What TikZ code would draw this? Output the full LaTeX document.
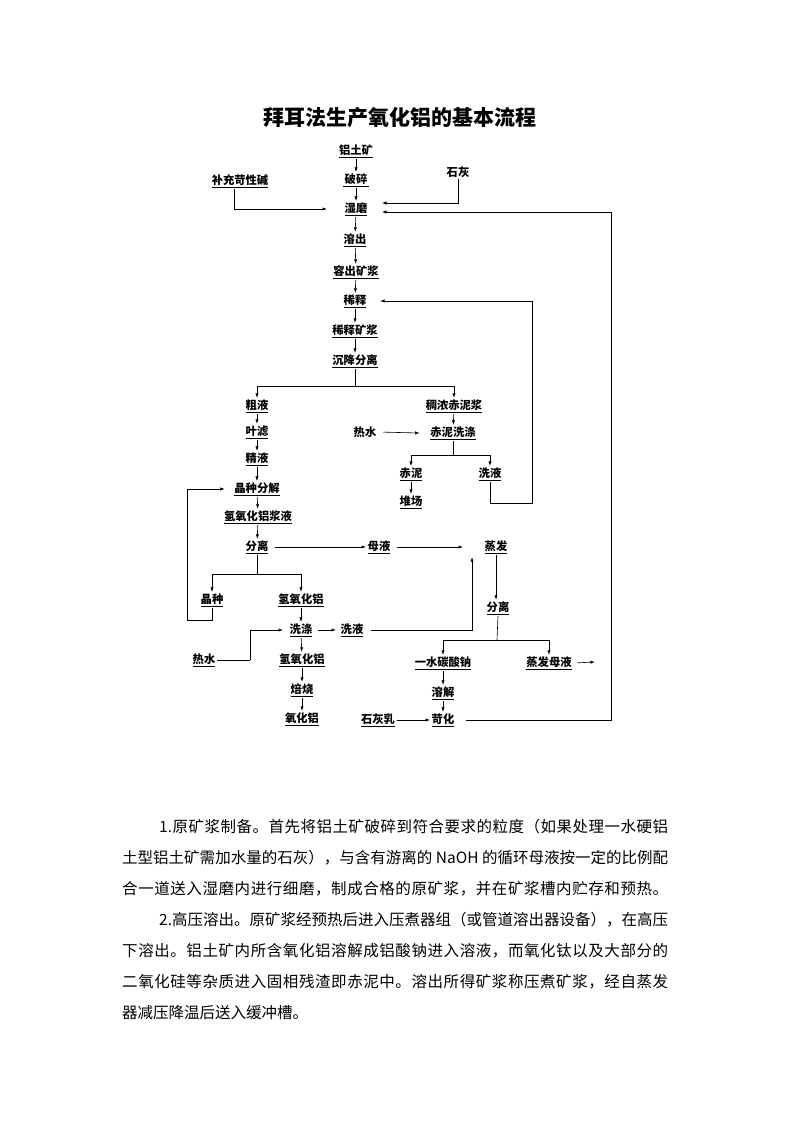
\documentclass[tikz,border=0pt]{standalone}
\usepackage{fontspec}
\setmainfont{Noto Sans CJK SC}
\usetikzlibrary{arrows.meta,calc}
\makeatletter
\newcommand\spreadline[2]{\hbox to #1{\@tfor\sp@x:=#2\do{\sp@x\hfil}\unskip}}
\makeatother
\begin{document}
\begin{tikzpicture}[x=1pt,y=-1pt,
  lbl/.style={font=\fontsize{11.3}{13}\selectfont\bfseries, inner sep=1.5pt},
  ttl/.style={font=\fontsize{21}{24}\selectfont\bfseries, inner sep=0pt},
  body/.style={font=\fontsize{15.5}{18}\selectfont, inner sep=0pt, anchor=west},
  ln/.style={line width=0.6pt},
  arr/.style={line width=0.6pt, -{Latex[length=4.5pt,width=3.2pt]}}]
\fill[white] (0,0) rectangle (800,1132);
\useasboundingbox (0,0) rectangle (800,1132);

\node[ttl] (title) at (400,118) {拜耳法生产氧化铝的基本流程};

% nodes
\node[lbl] (ltk) at (356,151) {\underline{铝土矿}};
\node[lbl] (ps)  at (356,180) {\underline{\,破碎\,}};
\node[lbl] (bc)  at (240,181) {\underline{补充苛性碱}};
\node[lbl] (sh)  at (458,172) {石灰};
\node[lbl] (sm)  at (356,209) {\underline{湿磨}};
\node[lbl] (rc)  at (355,240) {\underline{溶出}};
\node[lbl] (rk)  at (356,272) {\underline{容出矿浆}};
\node[lbl] (xs)  at (355,301) {\underline{稀释}};
\node[lbl] (xk)  at (355,331) {\underline{稀释矿浆}};
\node[lbl] (cj)  at (355,361) {\underline{沉降分离}};
\node[lbl] (cy)  at (257,406) {\underline{粗液}};
\node[lbl] (cn)  at (454,406) {\underline{稠浓赤泥浆}};
\node[lbl] (yl)  at (257,432) {\underline{叶滤}};
\node[lbl] (rs1) at (365,432) {热水};
\node[lbl] (cx)  at (453,433) {\underline{赤泥洗涤}};
\node[lbl] (jy)  at (257,459) {\underline{精液}};
\node[lbl] (cnn) at (411,474) {\underline{赤泥}};
\node[lbl] (xy1) at (490,474) {\underline{洗液}};
\node[lbl] (dc)  at (411,502) {\underline{堆场}};
\node[lbl] (jz)  at (257,489) {\underline{晶种分解}};
\node[lbl] (qj)  at (258,517) {\underline{氢氧化铝浆液}};
\node[lbl] (fl1) at (257,547) {\underline{分离}};
\node[lbl] (my)  at (379,547) {\underline{母液}};
\node[lbl] (zf)  at (496,547) {\underline{蒸发}};
\node[lbl] (jzz) at (212,600) {\underline{晶种}};
\node[lbl] (qy1) at (301,600) {\underline{氢氧化铝}};
\node[lbl] (fl2) at (498,608) {\underline{分离}};
\node[lbl] (xd)  at (301,630) {\underline{洗涤}};
\node[lbl] (xy2) at (352,630) {\underline{洗液}};
\node[lbl] (rs2) at (204,660) {\underline{热水}};
\node[lbl] (qy2) at (302,660) {\underline{氢氧化铝}};
\node[lbl] (ys)  at (443,663) {\underline{一水碳酸钠}};
\node[lbl] (zm)  at (549,663) {\underline{蒸发母液}};
\node[lbl] (bs)  at (302,690) {\underline{焙烧}};
\node[lbl] (rj)  at (443,693) {\underline{溶解}};
\node[lbl] (yhl) at (302,719) {\underline{氧化铝}};
\node[lbl] (shr) at (378,720) {\underline{石灰乳}};
\node[lbl] (kh)  at (443,720) {\underline{苛化}};

% helper coordinates
\coordinate (rr) at (611,212);
\coordinate (rb) at (532,503);
\coordinate (s1) at (355,386);
\coordinate (s2) at (453,455);
\coordinate (s3) at (257,574);
\coordinate (lb) at (187,620);
\coordinate (rw) at (250,660);
\coordinate (s4) at (497,640);
\coordinate (zo) at (595,662);

% main column
\draw[arr] (ltk) -- (ps);
\draw[arr] (ps) -- (sm);
\draw[arr] (sm) -- (rc);
\draw[arr] (rc) -- (rk);
\draw[arr] (rk) -- (xs);
\draw[arr] (xs) -- (xk);
\draw[arr] (xk) -- (cj);

% side inputs to wet grinding
\draw[arr] ([xshift=-6pt]bc.south) |- ([xshift=-16pt]sm.west);
\draw[arr] (sh.south) |- ([xshift=13pt,yshift=6pt]sm.east);
\draw[arr] ([xshift=10pt]kh.east) -| (rr) -- ([xshift=13pt,yshift=-3pt]sm.east);

% washing liquor back to dilution
\draw[arr] (xy1.south) |- (rb) |- ([xshift=12pt]xs.east);

% settling split
\draw[ln] (cj.south) -- (s1);
\draw[arr] (s1) -| (cy.north);
\draw[arr] (s1) -| (cn.north);

% left branch
\draw[arr] (cy) -- (yl);
\draw[arr] (yl) -- (jy);
\draw[arr] (jy) -- (jz);
\draw[arr] (jz) -- (qj);
\draw[arr] (qj) -- (fl1);

% right branch
\draw[arr] (cn) -- (cx);
\draw[arr, shorten <=5pt] (rs1.east) -- ([xshift=-9pt]cx.west);
\draw[ln] (cx.south) -- (s2);
\draw[arr] (s2) -| (cnn.north);
\draw[arr] (s2) -| (xy1.north);
\draw[arr] (cnn) -- (dc);

% separation
\draw[arr, shorten <=5pt] (fl1.east) -- (my.west);
\draw[arr, shorten <=5pt] (my.east) -- ([xshift=-20pt]zf.west);
\draw[ln] (fl1.south) -- (s3);
\draw[arr] (s3) -| (jzz.north);
\draw[arr] (s3) -| (qy1.north);
\draw[arr] (jzz.south) |- (lb) |- ([xshift=-8pt]jz.west);

% hydrate washing
\draw[arr] (qy1) -- (xd);
\draw[arr, shorten <=4pt] (xd.east) -- ([xshift=-3pt]xy2.west);
\draw[arr, shorten <=6pt] (xy2.east) -| ([xshift=-24pt,yshift=-2pt]zf.south);
\draw[ln] (rs2.east) -- (rw);
\draw[arr] (rw) |- ([xshift=-5pt]xd.west);
\draw[arr] (xd) -- (qy2);
\draw[arr] (qy2) -- (bs);
\draw[arr] (bs) -- (yhl);

% evaporation
\draw[arr] (zf.south) -- (zf.south |- fl2.north);
\draw[ln] (fl2.south) -- (s4);
\draw[arr] (s4) -| (ys.north);
\draw[arr] (s4) -| (zm.north);
\draw[arr, shorten <=4pt] (zm.east) -- (zo);
\draw[arr] (ys) -- (rj);
\draw[arr] (rj) -- (kh);
\draw[arr] (shr.east) -- (kh.west);

% body text
\node[body] (p1) at (159,827) {\spreadline{509pt}{{1.}原矿浆制备。首先将铝土矿破碎到符合要求的粒度（如果处理一水硬铝}};
\node[body] (p2) at (122,858) {\spreadline{546pt}{土型铝土矿需加水量的石灰），与含有游离的{\ NaOH\ }的循环母液按一定的比例配}};
\node[body] (p3) at (122,889) {\spreadline{546pt}{合一道送入湿磨内进行细磨，制成合格的原矿浆，并在矿浆槽内贮存和预热。}};
\node[body] (p4) at (159,920) {\spreadline{509pt}{{2.}高压溶出。原矿浆经预热后进入压煮器组（或管道溶出器设备），在高压}};
\node[body] (p5) at (122,951) {\spreadline{546pt}{下溶出。铝土矿内所含氧化铝溶解成铝酸钠进入溶液，而氧化钛以及大部分的}};
\node[body] (p6) at (122,982) {\spreadline{546pt}{二氧化硅等杂质进入固相残渣即赤泥中。溶出所得矿浆称压煮矿浆，经自蒸发}};
\node[body] (p7) at (122,1013) {器减压降温后送入缓冲槽。};
\end{tikzpicture}
\end{document}
